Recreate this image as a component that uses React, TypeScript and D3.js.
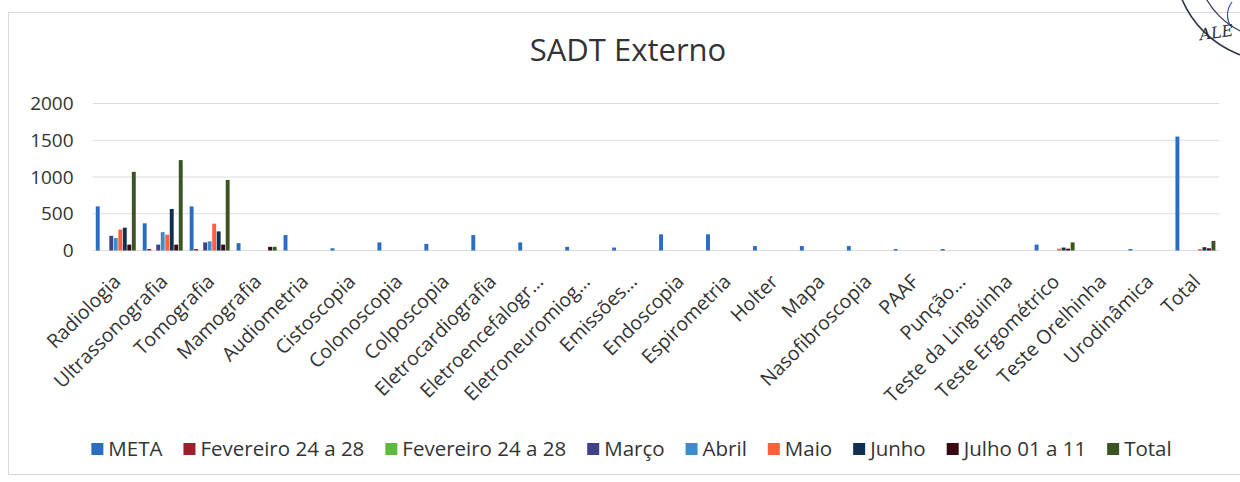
import { useEffect, useRef } from "react";
import * as d3 from "d3";

const categories = [
  "Radiologia", "Ultrassonografia", "Tomografia", "Mamografia", "Audiometria",
  "Cistoscopia", "Colonoscopia", "Colposcopia", "Eletrocardiografia",
  "Eletroencefalogr…", "Eletroneuromiog…", "Emissões…", "Endoscopia",
  "Espirometria", "Holter", "Mapa", "Nasofibroscopia", "PAAF", "Punção…",
  "Teste da Linguinha", "Teste Ergométrico", "Teste Orelhinha", "Urodinâmica", "Total",
];

const meta = [600, 370, 600, 100, 210, 30, 110, 90, 210, 110, 50, 40, 220, 220, 60, 60, 60, 20, 20, 0, 80, 0, 20, 1550];
const fevereiroA = [0, 20, 20, 0, 0, 0, 0, 0, 0, 0, 0, 0, 0, 0, 0, 0, 0, 0, 0, 0, 0, 0, 0, 0];
const fevereiroB = [0, 0, 0, 0, 0, 0, 0, 0, 0, 0, 0, 0, 0, 0, 0, 0, 0, 0, 0, 0, 0, 0, 0, 0];
const marco = [200, 80, 110, 0, 0, 0, 0, 0, 0, 0, 0, 0, 0, 0, 0, 0, 0, 0, 0, 0, 0, 0, 0, 0];
const abril = [170, 250, 125, 0, 0, 0, 0, 0, 0, 0, 0, 0, 0, 0, 0, 0, 0, 0, 0, 0, 0, 0, 0, 0];
const maio = [285, 215, 365, 0, 0, 0, 0, 0, 0, 0, 0, 0, 0, 0, 0, 0, 0, 0, 0, 0, 25, 0, 0, 20];
const junho = [310, 565, 260, 0, 0, 0, 0, 0, 0, 0, 0, 0, 0, 0, 0, 0, 0, 0, 0, 0, 40, 0, 0, 45];
const julho = [80, 80, 80, 50, 0, 0, 0, 0, 0, 0, 0, 0, 0, 0, 0, 0, 0, 0, 0, 0, 25, 0, 0, 30];
const total = [1070, 1230, 960, 50, 0, 0, 0, 0, 0, 0, 0, 0, 0, 0, 0, 0, 0, 0, 0, 0, 110, 0, 0, 130];

const seriesNames = ["META", "Fevereiro 24 a 28", "Fevereiro 24 a 28 ", "Março", "Abril", "Maio", "Junho", "Julho 01 a 11", "Total"];
const seriesValues = [meta, fevereiroA, fevereiroB, marco, abril, maio, junho, julho, total];
const seriesColors = ["#2b6cc4", "#9e1f2c", "#5cba3c", "#3f418a", "#3b8dcb", "#ff5f3c", "#0f304f", "#3a0a14", "#3b5424"];

const yTicks = [0, 500, 1000, 1500, 2000];

const FONT = "'Open Sans', sans-serif";

export default function App() {
  const chartRef = useRef<SVGSVGElement>(null);

  useEffect(() => {
    if (!chartRef.current) return;
    const svg = d3.select(chartRef.current);
    svg.selectAll("*").remove();

    const width = 1240;
    const plot = { left: 92.6, right: 1219.2, top: 103.5, bottom: 250.5 };

    // chart area border
    svg
      .append("rect")
      .attr("x", 8.5)
      .attr("y", 12.5)
      .attr("width", width)
      .attr("height", 462)
      .attr("fill", "#fff")
      .attr("stroke", "#d9d9d9");

    const x0 = d3.scaleBand().domain(categories).range([plot.left, plot.right]);
    const x1 = d3
      .scaleBand()
      .domain(seriesNames)
      .range([x0.bandwidth() * 0.068, x0.bandwidth() * 0.932]);
    const y = d3.scaleLinear().domain([0, 2000]).range([plot.bottom, plot.top]);

    // gridlines
    svg
      .append("g")
      .selectAll("line")
      .data(yTicks)
      .join("line")
      .attr("x1", plot.left)
      .attr("x2", plot.right)
      .attr("y1", (d) => y(d))
      .attr("y2", (d) => y(d))
      .attr("stroke", "#dcdcdc")
      .attr("stroke-width", 1);

    // y axis labels
    const yAxis = svg
      .append("g")
      .attr("transform", `translate(${plot.left},0)`)
      .call(d3.axisLeft(y).tickValues(yTicks).tickSize(0).tickPadding(19).tickFormat(d3.format("d")));
    yAxis.select(".domain").remove();
    yAxis
      .selectAll("text")
      .attr("fill", "#333")
      .style("font-family", FONT)
      .style("font-size", "19px");

    // bars
    const groups = svg
      .append("g")
      .selectAll("g")
      .data(categories)
      .join("g")
      .attr("transform", (d) => `translate(${x0(d)},0)`);

    groups
      .selectAll("rect")
      .data((_, i) => seriesNames.map((name, s) => ({ name, value: seriesValues[s][i], color: seriesColors[s] })))
      .join("rect")
      .attr("x", (d) => x1(d.name) || 0)
      .attr("y", (d) => y(d.value))
      .attr("width", x1.bandwidth() - 0.6)
      .attr("height", (d) => y(0) - y(d.value))
      .attr("fill", (d) => d.color);

    // category labels
    svg
      .append("g")
      .selectAll("text")
      .data(categories)
      .join("text")
      .attr("transform", (d) => `translate(${(x0(d) || 0) + x0.bandwidth() / 2 + 1},278)rotate(-45)`)
      .attr("text-anchor", "end")
      .attr("dy", "0.35em")
      .attr("fill", "#333")
      .style("font-family", FONT)
      .style("font-size", "19.5px")
      .text((d) => d);

    // title
    svg
      .append("text")
      .attr("x", 628)
      .attr("y", 61)
      .attr("text-anchor", "middle")
      .attr("fill", "#333")
      .style("font-family", FONT)
      .style("font-size", "31px")
      .text("SADT Externo");

    // legend
    const legend = svg.append("g").attr("transform", "translate(0,449)");
    const items = legend
      .selectAll("g")
      .data(seriesNames)
      .join("g");
    items
      .append("rect")
      .attr("y", -6)
      .attr("width", 12)
      .attr("height", 12)
      .attr("fill", (_, i) => seriesColors[i]);
    items
      .append("text")
      .attr("x", 17)
      .attr("dy", "0.36em")
      .attr("fill", "#333")
      .style("font-family", FONT)
      .style("font-size", "20.5px")
      .text((d) => d.trim());

    const widths: number[] = [];
    items.each(function () {
      const t = d3.select(this).select("text").node() as SVGTextElement;
      widths.push(17 + t.getComputedTextLength());
    });
    const gap = 21;
    const totalWidth = d3.sum(widths) + gap * (widths.length - 1);
    let cursor = 631.5 - totalWidth / 2;
    items.attr("transform", (_, i) => {
      const pos = cursor;
      cursor += widths[i] + gap;
      return `translate(${pos},0)`;
    });

    // scanned stamp in the corner
    const stamp = svg.append("g").attr("fill", "none").attr("stroke", "#2c3444");
    stamp.append("circle").attr("cx", 1275).attr("cy", -40).attr("r", 101).attr("stroke-width", 1.6);
    stamp.append("circle").attr("cx", 1275).attr("cy", -40).attr("r", 79).attr("stroke-width", 1.2);
    stamp
      .append("path")
      .attr("d", "M1232,2 C1226,10 1226,20 1232,28")
      .attr("stroke", "#3a4fb0")
      .attr("stroke-width", 1.2);
    svg
      .append("text")
      .attr("x", 1217)
      .attr("y", 38)
      .attr("text-anchor", "middle")
      .attr("fill", "#2c3444")
      .attr("transform", "rotate(-8,1217,38)")
      .style("font-family", "'DejaVu Serif', serif")
      .style("font-style", "italic")
      .style("font-size", "16px")
      .text("ALE");
  }, []);

  return (
    <svg
      ref={chartRef}
      width={1240}
      height={482}
      style={{ position: "absolute", left: 0, top: 0, background: "#fff" }}
    ></svg>
  );
}
